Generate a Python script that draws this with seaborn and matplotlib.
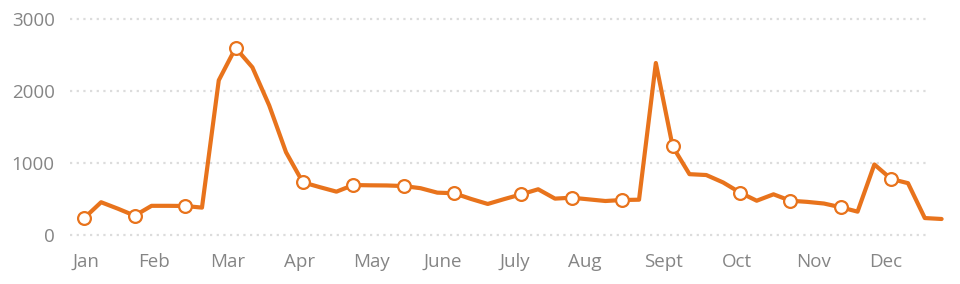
import matplotlib
matplotlib.use("Agg")
import matplotlib.pyplot as plt
import seaborn as sns
import pandas as pd

# weekly values (52 weeks)
values = [236, 455, 365, 268, 405, 405, 403, 380, 2150, 2600,
          2330, 1800, 1150, 732, 665, 602, 694, 690, 688, 680,
          650, 588, 580, 501, 431, 500, 565, 635, 505, 518,
          495, 472, 486, 490, 2390, 1230, 845, 833, 730, 590,
          476, 565, 476, 460, 437, 385, 324, 980, 778, 720,
          235, 222]
weeks = list(range(len(values)))
# weeks highlighted with a circle marker
marked_weeks = [0, 3, 6, 9, 13, 16, 19, 22, 26, 29, 32, 35, 39, 42, 45, 48]

month_labels = ["Jan", "Feb", "Mar", "Apr", "May", "June", "July", "Aug",
                "Sept", "Oct", "Nov", "Dec"]
month_ticks = [0.1, 4.15, 8.55, 12.83, 17.11, 21.34, 25.62, 29.8,
               34.43, 38.8, 43.4, 47.7]
y_ticks = [0, 1000, 2000, 3000]

df = pd.DataFrame({"week": weeks, "value": values})
marks = df[df["week"].isin(marked_weeks)]

sns.set_style("white")
plt.rcParams["font.family"] = ["Open Sans", "DejaVu Sans"]

W, H = 960, 284
fig = plt.figure(figsize=(W / 100, H / 100), dpi=100)
left_px, right_px = 70, 945
ax = fig.add_axes([left_px / W, 0.160, (right_px - left_px) / W, 0.798])

orange = "#E8731C"
grid_color = "#dcdcdc"
text_color = "#858585"

x0 = (70 - 84.3) / 16.81
x1 = (945 - 84.3) / 16.81
ax.set_xlim(x0, x1)
ax.set_ylim(-50, 3100)

for yv in y_ticks:
    ax.axhline(yv, xmin=0, xmax=(926 - 70) / (945 - 70), color=grid_color,
               lw=1.6, linestyle=(0, (1, 2)), zorder=0)

sns.lineplot(data=df, x="week", y="value", ax=ax, color=orange, lw=3.0,
             zorder=2)
ax.lines[-1].set_solid_joinstyle("round")
ax.lines[-1].set_solid_capstyle("round")
ax.lines[-1].set_clip_on(False)
sns.scatterplot(data=marks, x="week", y="value", ax=ax, s=85, color="white",
                edgecolor=orange, linewidth=1.6, zorder=3, clip_on=False)

ax.set_xticks(month_ticks)
ax.set_xticklabels(month_labels)
ax.set_yticks(y_ticks)
ax.set_yticklabels([str(v) for v in y_ticks])
ax.tick_params(axis="x", length=0, pad=10.5, labelsize=13.5, labelcolor=text_color)
ax.tick_params(axis="y", length=0, pad=11, labelsize=13.5, labelcolor=text_color)
ax.set_xlabel("")
ax.set_ylabel("")
for s in ax.spines.values():
    s.set_visible(False)
ax.grid(False)

fig.savefig("out.png", dpi=100)
